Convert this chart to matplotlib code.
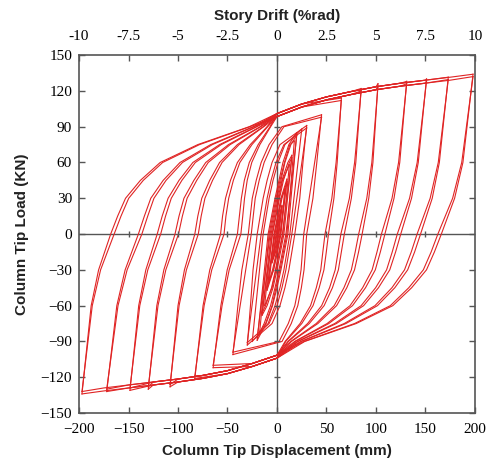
import numpy as np
import matplotlib
matplotlib.use("Agg")
import matplotlib.pyplot as plt

nan = np.nan

# ================= cycle data (mm, kN) =================
# reloading curves are given as displacements at these loads
reload_F = [0, 15, 30, 45, 60, 75, 90]

# ---- cycle 1 of every amplitude level ----
pos_peak_d = [5, 10, 15, 20, 30, 45, 65, 85, 102, 131, 151, 173, 198]
pos_peak_F = [24, 46, 66, 85, 91, 100, 114, 122, 126, 128, 130, 131.5, 134]
neg_peak_d = [-5, -10, -15, -20, -30, -44.5, -64.5, -83, -108, -130, -148.5, -172, -197]
neg_peak_F = [-24, -47, -68, -89, -93, -101, -112, -121, -128, -130, -131, -132, -134]
# unloading from the + peak: displacement at 60 and 30 kN
un_pos_d60 = [nan, nan, nan, nan, 26.2, 40.2, 60.8, 79.6, 96.9, 124, 142.7, 164, 187.8]
un_pos_d30 = [nan, nan, nan, nan, 23, 36.3, 57.5, 75.1, 92.7, 118.2, 135.9, 156.8, 179.4]
# unloading from the - peak: displacement at -60 and -30 kN
un_neg_d60 = [nan, nan, nan, nan, -26.8, -39.5, -56.7, -74.7, -100, -121.4, -139.7, -161.8, -187.7]
un_neg_d30 = [nan, nan, nan, nan, -24.2, -35.5, -50.3, -67.9, -93.5, -114.3, -132.5, -153.4, -180.2]
# reloading toward + (loads 0..90 kN)
up_d0 = [-1, -3, -6, -9, -20, -29, -40, -57, -83, -103, -121, -140, -168]
up_d15 = [2.5, 0.5, -2.5, -5.5, -17, -27, -38, -55, -80, -99, -116, -134, -161]
up_d30 = [nan, 4, 1, -2, -14, -25, -36, -52, -76, -94, -110, -127.5, -153]
up_d45 = [nan, nan, 5, 2, -10, -21, -33, -47, -68, -84, -99, -115, -138]
up_d60 = [nan, nan, 11, 6, -5, -16, -28, -40, -58, -72, -85, -98, -118]
up_d75 = [nan, nan, nan, 12, 3, -8, -19, -27, -40, -49, -58, -67, -80]
up_d90 = [nan, nan, nan, nan, nan, 5, -7, -10, -14, -17, -21, -24, -28]
# reloading toward - (loads 0..-90 kN)
lo_d0 = [2, 4, 7, 11, 18, 30, 52, 68, 86, 109, 125, 145, 166]
lo_d15 = [-1.5, 0.5, 3.5, 7.5, 15, 28.7, 49.8, 65, 82.4, 104.4, 119.8, 139, 159]
lo_d30 = [nan, -3.5, 0, 4, 12, 27.3, 47.4, 62, 78.3, 99.3, 113.9, 132, 151]
lo_d45 = [nan, nan, -4, 0, 8, 24.6, 42.6, 56, 70.5, 89.4, 102.5, 119, 136]
lo_d60 = [nan, nan, -10, -4.5, 3, 21, 36.4, 47.6, 60.2, 76.3, 87.5, 101.5, 117]
lo_d75 = [nan, nan, nan, -11, -5, 14.4, 25, 32.6, 41.3, 52.3, 60, 69.6, 80]
lo_d90 = [nan, nan, nan, nan, nan, 5.1, 8.8, 11.6, 14.6, 18.5, 21.3, 24.7, 28]

# ---- cycle 2 of every amplitude level ----
c2_pos_peak_d = [5, 10, 15, 20, 30, 45, 65, 85, 102, 131, 151, 173, 198]
c2_pos_peak_F = [23, 44, 64, 83, 89, 98, 112, 120, 124, 126, 128, 129.5, 132]
c2_neg_peak_d = [-5, -10, -15, -20, -30, -44.5, -64.5, -83, -108, -130, -148.5, -172, -197]
c2_neg_peak_F = [-23, -45, -66, -87, -91, -99, -110, -119, -126, -128, -129, -130, -132]
c2_un_pos_d60 = [nan, nan, nan, nan, nan, nan, 59.7, 78.4, 95.8, 122.8, 141.6, 162.9, 186.6]
c2_un_pos_d30 = [nan, nan, nan, nan, nan, nan, 55.4, 73.1, 90.7, 116.2, 133.9, 154.7, 177.4]
c2_un_neg_d60 = [nan, nan, nan, nan, nan, nan, -55.5, -73.6, -98.9, -120.2, -138.6, -160.6, -186.6]
c2_un_neg_d30 = [nan, nan, nan, nan, nan, nan, -48.3, -65.9, -91.5, -112.3, -130.5, -151.4, -178.2]
c2_up_d0 = [0, -2, -4.5, -7, -16, -26, -36.5, -53.5, -79.5, -99.5, -117.5, -136.5, -164.5]
c2_up_d15 = [3, 1.5, -1, -3.5, -13, -24, -34.6, -51.6, -76.6, -95.6, -112.6, -130.6, -157.6]
c2_up_d30 = [nan, 5, 2.5, 0, -10, -22, -32.8, -48.8, -72.8, -90.8, -106.8, -124.3, -149.8]
c2_up_d45 = [nan, nan, 6.5, 4, -6, -18, -30.1, -44.1, -65.1, -81.1, -96.1, -112.1, -135.1]
c2_up_d60 = [nan, nan, 12.5, 8, -1, -13, -25.5, -37.5, -55.5, -69.5, -82.5, -95.5, -115.5]
c2_up_d75 = [nan, nan, nan, 14, 7, -5, -17.3, -25.3, -38.3, -47.3, -56.3, -65.3, -78.3]
c2_up_d90 = [nan, nan, nan, nan, nan, 7, -6.4, -9.4, -13.4, -16.4, -20.4, -23.4, -27.4]
c2_lo_d0 = [1, 3, 5.5, 9, 15, 27, 48.5, 64.5, 82.5, 105.5, 121.5, 141.5, 162.5]
c2_lo_d15 = [-2.5, -0.5, 2, 5.5, 12, 25.7, 46.3, 61.7, 79, 101, 116.4, 135.6, 155.7]
c2_lo_d30 = [nan, -4.5, -1.5, 2, 9, 24.3, 44.2, 58.8, 75.1, 96.1, 110.7, 128.8, 147.8]
c2_lo_d45 = [nan, nan, -5.5, -2, 5, 21.6, 39.7, 53.1, 67.6, 86.5, 99.6, 116.1, 133.1]
c2_lo_d60 = [nan, nan, -11.5, -6.5, 0, 18, 33.9, 45.1, 57.8, 73.8, 85, 99, 114.5]
c2_lo_d75 = [nan, nan, nan, -13, -8, 11.4, 23.3, 30.9, 39.6, 50.6, 58.3, 67.9, 78.3]
c2_lo_d90 = [nan, nan, nan, nan, nan, 2.1, 8.2, 11, 14, 17.9, 20.7, 24.1, 27.4]

# ---- extra small elastic cycles (dense central bundle) ----
c3_pos_peak_d = [4, 8, 12.5, 17.5, 25]
c3_pos_peak_F = [20, 38, 58, 78, 88]
c3_neg_peak_d = [-4, -8, -12.5, -17.5, -25]
c3_neg_peak_F = [-20, -40, -60, -82, -90]
c3_un_nan = [nan, nan, nan, nan, nan]
c3_up_d0 = [-0.5, -2.5, -5, -8, -14]
c3_up_d15 = [2.5, 1, -1.5, -4.5, -11]
c3_up_d30 = [nan, 4.5, 2, -1, -8]
c3_up_d45 = [nan, nan, 5.5, 3, -4]
c3_up_d60 = [nan, nan, nan, 7.5, 1]
c3_up_d75 = [nan, nan, nan, 13, 8]
c3_lo_d0 = [1.5, 3.5, 6, 10, 13]
c3_lo_d15 = [-1.5, 0, 2.5, 6.5, 10]
c3_lo_d30 = [nan, -3.5, -1, 3, 7]
c3_lo_d45 = [nan, nan, -5, -1, 3]
c3_lo_d60 = [nan, nan, nan, -5, -2]
c3_lo_d75 = [nan, nan, nan, -11.5, -9]

# envelopes (bundles of curves near the peaks), first and second cycles
env_up_d = [0, 25, 50, 75, 100, 125, 150, 175, 200]
env_up_F = [101, 109, 115, 119.5, 123.5, 126.5, 129, 131.5, 134]
env_lo_d = [0, -25, -50, -75, -100, -125, -150, -175, -200]
env_lo_F = [-104, -111, -117, -121, -124, -126.5, -129, -131.5, -134]
env2_up_F = [98.5, 106.5, 112.5, 117, 121, 124, 126.5, 129, 132]
env2_lo_F = [-101.5, -108.5, -114.5, -118.5, -121.5, -124, -126.5, -129, -132]

x_ticks = [-200, -150, -100, -50, 0, 50, 100, 150, 200]
y_ticks = [-150, -120, -90, -60, -30, 0, 30, 60, 90, 120, 150]
drift_ticks = [-10, -7.5, -5, -2.5, 0, 2.5, 5, 7.5, 10]
drift_labels = ["-10", "-7.5", "-5", "-2.5", "0", "2.5", "5", "7.5", "10"]

RED = "#e02424"
GREY = "#555555"


def branch(start, unload_pts, reload_pts, env_d, env_F, end, sign):
    pts = [start]
    for d, F in list(unload_pts) + list(reload_pts):
        if not np.isnan(d) and abs(F) < abs(start[1]) and abs(F) < abs(end[1]):
            pts.append((d, F))
    for d, F in zip(env_d, env_F):
        last_d, last_F = pts[-1]
        if sign * (d - last_d) > 0 and sign * (end[0] - d) > 0 \
                and abs(last_F) < abs(F) < abs(end[1]):
            pts.append((d, F))
    pts.append(end)
    return np.array(pts)


def draw_cycles(ax, ppd, ppF, npd, npF, upd60, upd30, und60, und30, ups, los,
                eupF, eloF):
    for i in range(len(ppd)):
        pp = (ppd[i], ppF[i])
        npk = (npd[i], npF[i])
        lo = branch(pp, [(upd60[i], 60), (upd30[i], 30)],
                    [(arr[i], -F) for arr, F in zip(los, reload_F)],
                    env_lo_d, eloF, npk, -1)
        up = branch(npk, [(und60[i], -60), (und30[i], -30)],
                    [(arr[i], F) for arr, F in zip(ups, reload_F)],
                    env_up_d, eupF, pp, +1)
        for b in (lo, up):
            ax.plot(b[:, 0], b[:, 1], color=RED, lw=0.8, solid_joinstyle="round")


fig = plt.figure(figsize=(4.91, 4.66), dpi=100)
ax = fig.add_axes([0.1609, 0.1137, 0.8065, 0.768])

draw_cycles(ax, pos_peak_d, pos_peak_F, neg_peak_d, neg_peak_F,
            un_pos_d60, un_pos_d30, un_neg_d60, un_neg_d30,
            [up_d0, up_d15, up_d30, up_d45, up_d60, up_d75, up_d90],
            [lo_d0, lo_d15, lo_d30, lo_d45, lo_d60, lo_d75, lo_d90],
            env_up_F, env_lo_F)
draw_cycles(ax, c2_pos_peak_d, c2_pos_peak_F, c2_neg_peak_d, c2_neg_peak_F,
            c2_un_pos_d60, c2_un_pos_d30, c2_un_neg_d60, c2_un_neg_d30,
            [c2_up_d0, c2_up_d15, c2_up_d30, c2_up_d45, c2_up_d60, c2_up_d75, c2_up_d90],
            [c2_lo_d0, c2_lo_d15, c2_lo_d30, c2_lo_d45, c2_lo_d60, c2_lo_d75, c2_lo_d90],
            env2_up_F, env2_lo_F)
draw_cycles(ax, c3_pos_peak_d, c3_pos_peak_F, c3_neg_peak_d, c3_neg_peak_F,
            c3_un_nan, c3_un_nan, c3_un_nan, c3_un_nan,
            [c3_up_d0, c3_up_d15, c3_up_d30, c3_up_d45, c3_up_d60, c3_up_d75],
            [c3_lo_d0, c3_lo_d15, c3_lo_d30, c3_lo_d45, c3_lo_d60, c3_lo_d75],
            env_up_F, env_lo_F)

ax.axhline(0, color=GREY, lw=1.0, zorder=0)
ax.axvline(0, color=GREY, lw=1.0, zorder=0)
xt = [v for v in x_ticks if v not in (0, -200, 200)]
yt = [v for v in y_ticks if v not in (0, -150, 150)]
ax.plot(xt, [0] * len(xt), ls="none", marker="|", ms=5, color=GREY, mew=1)
ax.plot([0] * len(yt), yt, ls="none", marker="_", ms=5, color=GREY, mew=1)

ax.set_xlim(-200, 200)
ax.set_ylim(-150, 150)
ax.set_xticks(x_ticks)
ax.set_yticks(y_ticks)
ax.tick_params(direction="in", length=4, width=1, color=GREY,
               top=False, right=True, labelsize=11)
ax.tick_params(axis="x", pad=7)
ax.tick_params(axis="y", pad=5)
for lab in ax.get_xticklabels() + ax.get_yticklabels():
    lab.set_family("Liberation Serif")
for s in ax.spines.values():
    s.set_color(GREY)
    s.set_linewidth(1.2)

ax2 = ax.twiny()
ax2.set_xlim(-10, 10)
ax2.set_xticks(drift_ticks)
ax2.set_xticklabels(drift_labels)
ax2.tick_params(direction="in", length=4, width=1, color=GREY, labelsize=11, pad=9)
for lab in ax2.get_xticklabels():
    lab.set_family("Liberation Serif")
for s in ax2.spines.values():
    s.set_visible(False)

lab_kw = dict(fontsize=11, fontweight="bold", family="Liberation Sans", color="#222222")
ax.set_xlabel("Column Tip Displacement (mm)", **lab_kw)
ax.set_ylabel("Column Tip Load (KN)", **lab_kw)
ax2.set_xlabel("Story Drift (%rad)", **lab_kw)
ax.xaxis.label.set_va("center")
ax.xaxis.set_label_coords(0.5, -0.105)
ax.yaxis.label.set_va("center")
ax.yaxis.set_label_coords(-0.145, 0.5)
ax2.xaxis.label.set_va("center")
ax2.xaxis.set_label_coords(0.5, 1.109)

fig.savefig("out.png", dpi=100)
